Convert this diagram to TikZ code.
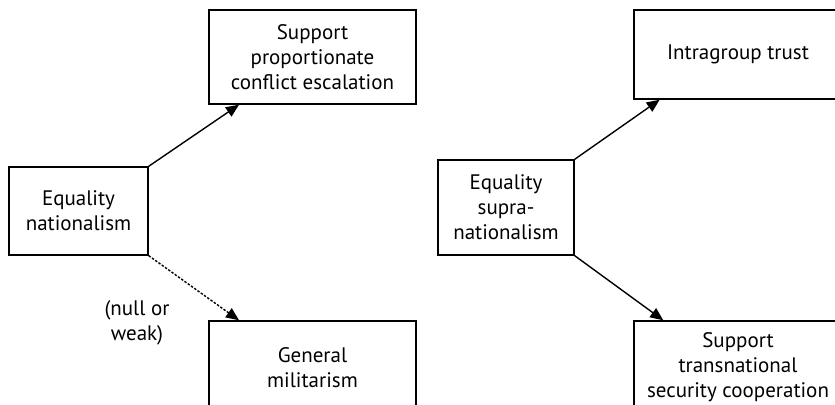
\documentclass[tikz,border=0pt]{standalone}
\usepackage{fontspec}
\setmainfont{PT Sans}
\usetikzlibrary{arrows.meta}

\begin{document}
\begin{tikzpicture}[x=0.5pt, y=0.5pt, line width=0.7pt,
    >={Triangle[length=6.5pt, width=5.5pt]},
    font=\fontsize{10.5}{12.5}\selectfont,
    varbox/.style={draw, align=center, inner sep=2pt}]
  \useasboundingbox (0,0) rectangle (835,405);

  \node[varbox, minimum width=69.5pt, minimum height=44pt](EqNat) at (78.5,194) {Equality\\nationalism};
  \node[varbox, minimum width=103.5pt, minimum height=47pt](Escal) at (312.5,348) {Support\\proportionate\\conflict escalation};
  \node[varbox, minimum width=103.5pt, minimum height=47pt](GenMil) at (312.5,37) {General\\militarism};
  \node[varbox, minimum width=68pt, minimum height=47.5pt](EqSup) at (506,197.5) {Equality\\supra-\\nationalism};
  \node[varbox, minimum width=104pt, minimum height=44.5pt](Intra) at (738,350.5) {Intragroup trust};
  \node[varbox, minimum width=104pt, minimum height=46pt](SupTrans) at (738,38) {Support\\transnational\\security cooperation};
  \node[align=center](NullWeak) at (137,82) {(null or\\weak)};

  \draw[->] (EqNat.north east) -- (Escal.213);
  \draw[->, dash pattern=on 1.2pt off 0.8pt] (EqNat.south east) -- (GenMil.147);
  \draw[->] (EqSup.north east) -- (Intra.210);
  \draw[->] (EqSup.south east) -- (SupTrans.148);
\end{tikzpicture}
\end{document}
